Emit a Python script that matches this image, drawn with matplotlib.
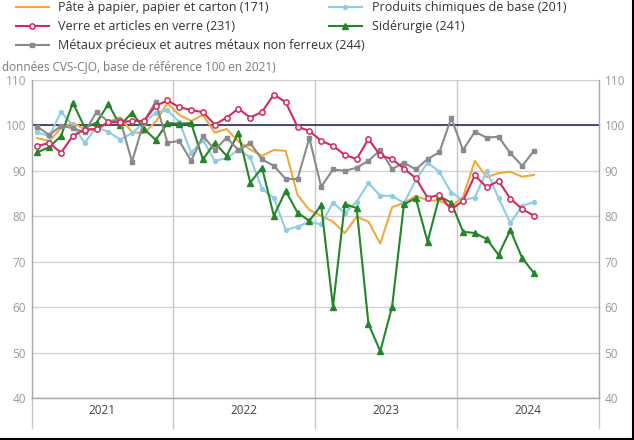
import numpy as np
import matplotlib.pyplot as plt
from matplotlib.lines import Line2D

plt.rcParams['font.family'] = ['Open Sans', 'DejaVu Sans']

years = ['2021', '2022', '2023', '2024']

# monthly indices, Jan 2021 -> Jul 2024
pate = [97.2, 96.6, 99.4, 100.6, 99.1, 99.0, 100.8, 101.8, 98.5, 98.3,
        100.8, 104.9, 102.3, 101.0, 102.3, 98.4, 99.2, 96.5, 94.7, 93.3,
        94.6, 94.4, 84.7, 81.4, 80.1, 78.8, 76.3, 79.9, 78.8, 74.0,
        82.0, 82.9, 84.5, 83.5, 83.4, 82.1, 84.3, 92.2, 88.6, 89.5,
        89.8, 88.7, 89.1]
chimie = [98.5, 97.6, 103.0, 99.9, 96.2, 99.6, 98.6, 96.9, 98.3, 100.6,
          102.8, 103.3, 100.8, 94.0, 96.8, 92.2, 92.8, 94.6, 93.0, 86.0,
          84.0, 77.0, 77.7, 78.8, 78.2, 83.0, 80.7, 83.2, 87.3, 84.5,
          84.5, 82.9, 88.0, 91.8, 89.8, 85.2, 83.6, 84.1, 90.0, 84.0,
          78.5, 82.3, 83.1]
verre = [95.5, 96.1, 94.0, 97.7, 99.1, 99.2, 100.7, 100.7, 101.0, 101.0,
         104.3, 105.5, 104.0, 103.4, 102.9, 100.2, 101.7, 103.7, 101.7, 103.0,
         106.8, 105.1, 99.7, 98.8, 96.6, 95.5, 93.5, 92.6, 97.0, 93.4,
         92.6, 90.5, 88.4, 84.1, 84.7, 81.5, 83.4, 89.0, 86.4, 87.8,
         83.9, 81.6, 80.1]
siderurgie = [94.1, 95.2, 97.7, 105.0, 99.5, 100.6, 104.7, 100.0, 102.8, 99.3,
              96.8, 100.5, 100.4, 100.5, 92.5, 96.2, 93.3, 98.3, 87.4, 90.7,
              80.1, 85.6, 80.8, 79.0, 82.4, 60.1, 82.7, 81.8, 56.3, 50.3,
              60.1, 82.6, 84.0, 74.4, 84.4, 83.0, 76.6, 76.3, 75.0, 71.5,
              77.0, 70.8, 67.5]
metaux = [99.7, 97.9, 99.9, 99.4, 98.5, 103.0, 100.8, 101.2, 92.0, 100.8,
          105.2, 96.2, 96.6, 92.2, 97.7, 94.6, 97.3, 94.6, 96.1, 92.5,
          91.1, 88.2, 88.2, 97.2, 86.5, 90.3, 90.0, 90.7, 92.2, 94.6,
          90.4, 91.8, 90.3, 92.6, 94.1, 101.6, 94.6, 98.6, 97.3, 97.5,
          93.9, 91.1, 94.4]

fig = plt.figure(figsize=(6.34, 4.40), dpi=100)
ax = fig.add_axes([0.0497, 0.0955, 0.8951, 0.7227])

x = np.arange(len(pate))

h_pate, = ax.plot(x, pate, color='#f2a93b', lw=1.5, zorder=3,
                  label='Pâte à papier, papier et carton (171)')
h_chim, = ax.plot(x, chimie, color='#8fcde4', lw=1.5, marker='o', ms=2.8,
                  zorder=3, label='Produits chimiques de base (201)')
h_verre, = ax.plot(x, verre, color='#d42a5b', lw=1.5, marker='o', ms=3.8,
                   mfc='white', mec='#d42a5b', mew=1.1, zorder=4,
                   label='Verre et articles en verre (231)')
h_sid, = ax.plot(x, siderurgie, color='#23862a', lw=1.5, marker='^', ms=4,
                 zorder=3, label='Sidérurgie (241)')
h_met, = ax.plot(x, metaux, color='#8a8a8a', lw=1.5, marker='s', ms=3,
                 zorder=3, label='Métaux précieux et autres métaux non ferreux (244)')

ax.set_xlim(-0.5, 47.5)
ax.set_ylim(40, 110)
ax.set_yticks(range(40, 111, 10))
ax.yaxis.grid(True, color='#d2d2d2', lw=1)
ax.set_axisbelow(True)
ax.axhline(100, color='#3b3b6b', lw=1.3, zorder=2)

for b in [11.5, 23.5, 35.5]:
    ax.axvline(b, color='#c8c8c8', lw=1, zorder=1)
for b in [-0.5, 11.5, 23.5, 35.5, 47.5]:
    ax.plot([b, b], [0, -0.095], transform=ax.get_xaxis_transform(),
            clip_on=False, color='#c8c8c8', lw=1)

ax.set_xticks([])
for i, yr in enumerate(years):
    ax.text(5.5 + 12 * i, -0.038, yr, transform=ax.get_xaxis_transform(),
            ha='center', va='center', fontsize=8.5, color='#444444')

ax.tick_params(axis='y', length=0, labelsize=8.5, labelcolor='#9a9a9a',
               left=True, right=True, labelleft=True, labelright=True, pad=4)
ax.spines['top'].set_visible(False)
for s in ['left', 'right', 'bottom']:
    ax.spines[s].set_color('#a8a8a8')
    ax.spines[s].set_linewidth(1)

leg_kw = dict(frameon=False, fontsize=9, handlelength=2.6, handletextpad=0.8,
              labelspacing=0.5, borderaxespad=0, borderpad=0,
              labelcolor='#333333')
leg1 = fig.legend(handles=[h_pate, h_verre, h_met], loc='upper left',
                  bbox_to_anchor=(16 / 634, 1 - 1 / 440), **leg_kw)
leg2 = fig.legend(handles=[h_chim, h_sid], loc='upper left',
                  bbox_to_anchor=(329 / 634, 1 - 1 / 440), **leg_kw)

fig.text(2 / 634, 1 - 67 / 440, 'données CVS-CJO, base de référence 100 en 2021)',
         fontsize=8.5, color='#7a7a7a', va='center', ha='left')

# screenshot frame
fig.add_artist(Line2D([0.999, 0.999], [0, 1], color='black', lw=1.5))
fig.add_artist(Line2D([0, 1], [0.002, 0.002], color='black', lw=1.5))

fig.savefig('out.png', dpi=100)
